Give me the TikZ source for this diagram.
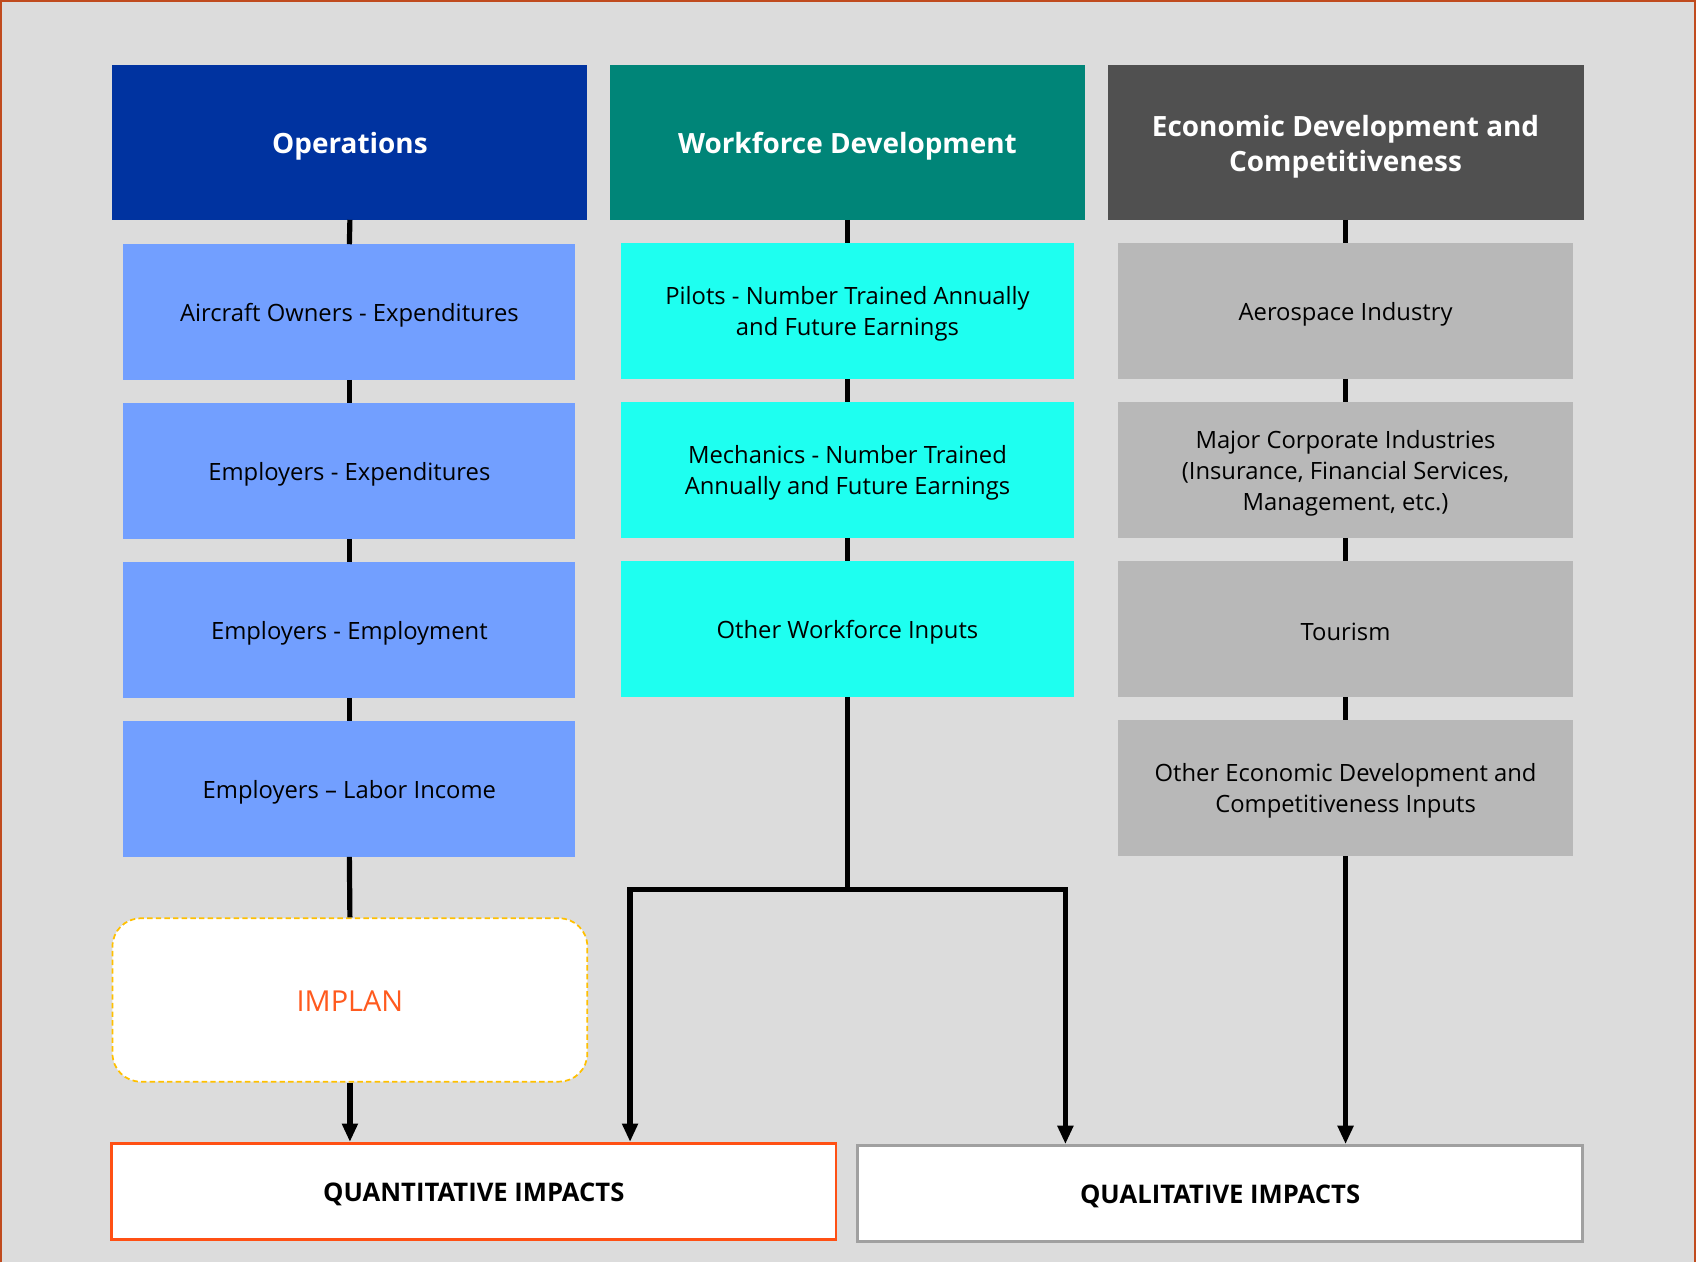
\documentclass[tikz,border=0pt]{standalone}
\usepackage{fontspec}
\setmainfont{Open Sans}
\usetikzlibrary{arrows.meta}
\definecolor{bgc}{HTML}{DCDCDC}
\definecolor{framec}{HTML}{C04B1E}
\definecolor{opshead}{HTML}{0033A0}
\definecolor{opsbox}{HTML}{729FFF}
\definecolor{wfhead}{HTML}{008578}
\definecolor{wfbox}{HTML}{1EFFF0}
\definecolor{edhead}{HTML}{505050}
\definecolor{edbox}{HTML}{B8B8B8}
\definecolor{implanborder}{HTML}{FFC000}
\definecolor{implantext}{HTML}{FF5A1E}
\definecolor{quantborder}{HTML}{FF5014}
\definecolor{qualborder}{HTML}{A0A0A0}
\tikzset{
  headbox/.style={rectangle, minimum width=439pt, minimum height=143pt, inner sep=0pt},
  headtext/.style={inner sep=0pt, text=white, align=center, yshift=-4pt,
    font=\fontsize{25.8}{32.5}\selectfont\bfseries},
  itembox/.style={rectangle, minimum width=419pt, minimum height=125pt, inner sep=0pt},
  itemtext/.style={inner sep=0pt, text=black, align=center, yshift=-3pt,
    font=\fontsize{22}{28.8}\selectfont},
  conn/.style={line width=4.8pt, black},
  arr/.style={conn, -{Triangle[length=17pt,width=14pt]}},
  impactbox/.style={rectangle, fill=white, line width=2.5pt, minimum width=670pt, minimum height=89pt,
    inner sep=0pt},
  impacttext/.style={inner sep=0pt, yshift=-3pt, font=\fontsize{23.7}{28}\selectfont\bfseries}
}
\begin{document}
\begin{tikzpicture}[x=1pt,y=-1pt]
\useasboundingbox (0,0) rectangle (1568,1167);
\fill[bgc] (0,0) rectangle (1568,1167);
\draw[framec, line width=2.5pt] (1,1167) -- (1,1) -- (1567,1) -- (1567,1167);

% headers
\node[headbox, fill=opshead, label={[headtext]center:Operations}] (h1) at (323.5,131.5) {};
\node[headbox, fill=wfhead, label={[headtext]center:Workforce Development}] (h2) at (783.5,131.5) {};
\node[headbox, fill=edhead, minimum width=440pt,
  label={[headtext]center:Economic Development and\\Competitiveness}] (h3) at (1244,131.5) {};

% column 1
\node[itembox, fill=opsbox, minimum width=418pt,
  label={[itemtext]center:Aircraft Owners - Expenditures}] (b11) at (323,288.5) {};
\node[itembox, fill=opsbox, minimum width=418pt,
  label={[itemtext]center:Employers - Expenditures}] (b12) at (323,435.5) {};
\node[itembox, fill=opsbox, minimum width=418pt,
  label={[itemtext]center:Employers - Employment}] (b13) at (323,582.5) {};
\node[itembox, fill=opsbox, minimum width=418pt,
  label={[itemtext]center:Employers -- Labor Income}] (b14) at (323,729.5) {};

% column 2
\node[itembox, fill=wfbox,
  label={[itemtext]center:Pilots - Number Trained Annually\\and Future Earnings}] (b21) at (783.5,287.5) {};
\node[itembox, fill=wfbox,
  label={[itemtext]center:Mechanics - Number Trained\\Annually and Future Earnings}] (b22) at (783.5,434.5) {};
\node[itembox, fill=wfbox,
  label={[itemtext]center:Other Workforce Inputs}] (b23) at (783.5,581.5) {};

% column 3
\node[itembox, fill=edbox, minimum width=420pt,
  label={[itemtext]center:Aerospace Industry}] (b31) at (1244,287.5) {};
\node[itembox, fill=edbox, minimum width=420pt,
  label={[itemtext]center:Major Corporate Industries\\(Insurance, Financial Services,\\Management, etc.)}] (b32) at (1244,434.5) {};
\node[itembox, fill=edbox, minimum width=420pt,
  label={[itemtext]center:Tourism}] (b33) at (1244,581.5) {};
\node[itembox, fill=edbox, minimum width=420pt,
  label={[itemtext]center:Other Economic Development and\\Competitiveness Inputs}] (b34) at (1244,728.5) {};

% IMPLAN
\node[rectangle, rounded corners=26pt, fill=white, draw=implanborder, line width=1.6pt,
  dash pattern=on 5pt off 3pt, minimum width=439pt, minimum height=151pt, inner sep=0pt,
  label={[inner sep=0pt, yshift=-1pt, text=implantext, font=\fontsize{26.7}{30}\selectfont]center:IMPLAN}]
  (implan) at (323.5,924.5) {};

% impacts
\node[impactbox, draw=quantborder, label={[impacttext]center:QUANTITATIVE IMPACTS}] (quant) at (438,1101.5) {};
\node[impactbox, draw=qualborder, label={[impacttext]center:QUALITATIVE IMPACTS}] (qual) at (1128,1103.5) {};

% connectors column 1
\draw[conn] (h1.south) -- (b11.north);
\draw[conn] (b11.south) -- (b12.north);
\draw[conn] (b12.south) -- (b13.north);
\draw[conn] (b13.south) -- (b14.north);
\draw[conn] (b14.south) -- (implan.north);
\draw[arr] (implan.south) -- (quant.north -| implan.south);

% connectors column 2
\draw[conn] (h2.south) -- (b21.north);
\draw[conn] (b21.south) -- (b22.north);
\draw[conn] (b22.south) -- (b23.north);
\coordinate (j) at (783.5,822);
\coordinate (jl) at (582.5,822);
\coordinate (jr) at (985,822);
\draw[conn] (b23.south) -- (j);
\draw[arr] (j) -- (jl) -- (jl |- quant.north);
\draw[arr] (j) -- (jr) -- (jr |- qual.north);

% connectors column 3
\draw[conn] (h3.south) -- (b31.north);
\draw[conn] (b31.south) -- (b32.north);
\draw[conn] (b32.south) -- (b33.north);
\draw[conn] (b33.south) -- (b34.north);
\draw[arr] (b34.south) -- (b34.south |- qual.north);
\end{tikzpicture}
\end{document}
